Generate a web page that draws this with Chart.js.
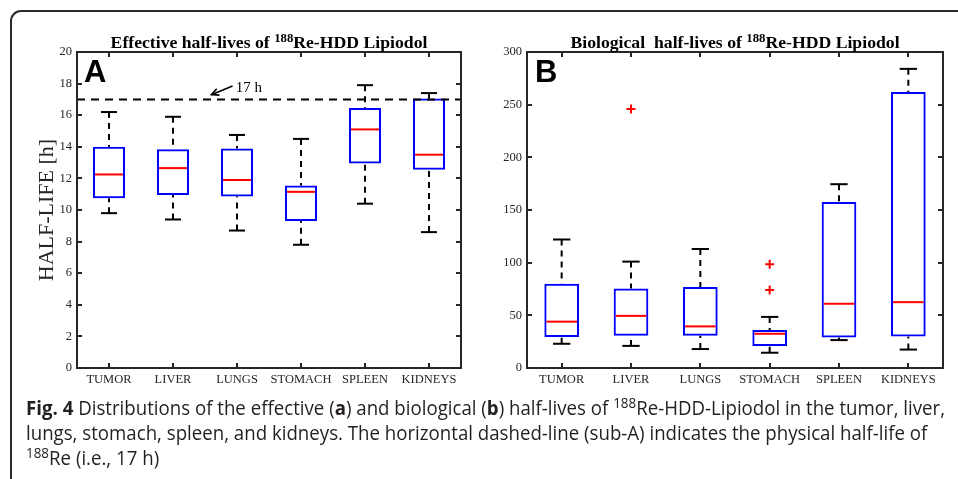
<!DOCTYPE html>
<html>
<head>
<meta charset="utf-8">
<script src="https://cdn.jsdelivr.net/npm/chart.js@4.4.1/dist/chart.umd.min.js"></script>
<style>
    html, body { margin: 0; padding: 0; background: #fff; }
    body { width: 958px; height: 479px; overflow: hidden; position: relative; }
    .frame {
        position: absolute; left: 10px; top: 10px; width: 990px; height: 520px;
        border: 2px solid #2b2b2b; border-top-left-radius: 11px; box-sizing: border-box;
    }
    canvas { position: absolute; top: 0; }
    .ptitle {
        position: absolute; top: 32px; height: 16px; line-height: 16px; text-align: center;
        font: bold 17.7px "Liberation Serif", "Times New Roman", serif; color: #000; white-space: nowrap;
    }
    .ptitle sup, .caption sup { font-size: 0.72em; position: relative; top: -0.5em; vertical-align: baseline; line-height: 0; }
    .letter {
        position: absolute; top: 54px; height: 31px; line-height: 31px;
        font: bold 31px "Liberation Sans", Arial, sans-serif; color: #000;
    }
    .ylabel {
        position: absolute; left: -55px; top: 198px; width: 200px; height: 24px; line-height: 24px;
        text-align: center; transform: rotate(-90deg); transform-origin: 50% 50%;
        font: 22px "Liberation Serif", "Times New Roman", serif; color: #262626; white-space: nowrap;
    }
    .caption {
        position: absolute; left: 26px; top: 395px; transform-origin: 0 0;
        font: 20px "Open Sans", "Noto Sans", sans-serif; line-height: 25px; color: #231f20; white-space: nowrap;
    }
</style>
</head>
<body>
<div class="frame"></div>
<canvas id="chartA" width="475" height="395" style="left:0"></canvas>
<canvas id="chartB" width="478" height="395" style="left:480px"></canvas>

<div class="ptitle" style="left:77px; width:384px">Effective half-lives of <sup>188</sup>Re-HDD Lipiodol</div>
<div class="ptitle" style="left:527px; width:416px">Biological &nbsp;half-lives of <sup>188</sup>Re-HDD Lipiodol</div>
<div class="letter" style="left:84px">A</div>
<div class="letter" style="left:535px">B</div>
<div class="ylabel">HALF-LIFE [h]</div>

<div class="caption" id="caption">
    <div id="capLine1"><b>Fig. 4</b> Distributions of the effective (<b>a</b>) and biological (<b>b</b>) half-lives of <sup>188</sup>Re-HDD-Lipiodol in the tumor, liver,</div>
    <div>lungs, stomach, spleen, and kidneys. The horizontal dashed-line (sub-A) indicates the physical half-life of</div>
    <div><sup>188</sup>Re (i.e., 17 h)</div>
</div>

<script>
// Categories
const categories = ["TUMOR", "LIVER", "LUNGS", "STOMACH", "SPLEEN", "KIDNEYS"];

// A: effective half-lives [h]
const effMin    = [9.8, 9.4, 8.7, 7.8, 10.4, 8.6];
const effQ1     = [10.75, 10.95, 10.85, 9.3, 12.95, 12.55];
const effMedian = [12.25, 12.65, 11.9, 11.15, 15.1, 13.5];
const effQ3     = [14.0, 13.85, 13.9, 11.55, 16.45, 17.05];
const effMax    = [16.2, 15.9, 14.75, 14.5, 17.9, 17.4];
const physicalHalfLife = 17;

// B: biological half-lives [h]
const bioMin    = [23, 21, 18, 14.5, 26.5, 17.5];
const bioQ1     = [29.5, 30.5, 30.5, 21, 29, 30];
const bioMedian = [44, 49.5, 39.5, 32.5, 61, 62.5];
const bioQ3     = [80, 75.5, 77, 36, 157.5, 262];
const bioMax    = [122, 101, 113, 48.5, 174.5, 284];
const bioOutlierCat = ["LIVER", "STOMACH", "STOMACH"];
const bioOutlierVal = [246, 98.5, 74];

// Axis ticks
const effTicks = { min: 0, max: 20, step: 2 };
const bioTicks = { min: 0, max: 300, step: 50 };

// Annotation for the 17 h line (x in category index units, y in data units)
const refNote = { text: "17 h", textAt: [1.98, 17.45], arrowFrom: [1.93, 17.85], arrowTo: [1.6, 17.3] };

const AXIS_COLOR = "#262626";
const TICK_FONT = { family: "'Liberation Serif', 'Times New Roman', serif", size: 12.5 };

function line(ctx, x1, y1, x2, y2) {
    ctx.beginPath();
    ctx.moveTo(x1, y1);
    ctx.lineTo(x2, y2);
    ctx.stroke();
}

// Whiskers, caps, medians, frame and inward tick marks (MATLAB style)
function boxExtras(stats, withRef) {
    return {
        id: "boxExtras",
        beforeDatasetsDraw(chart) {
            const { ctx, scales: { x, y } } = chart;
            const step = x.getPixelForValue(1) - x.getPixelForValue(0);
            const capHalf = step * 0.125;
            ctx.save();
            ctx.strokeStyle = "#000";
            ctx.lineWidth = 2;
            stats.min.forEach((v, i) => {
                const cx = x.getPixelForValue(i);
                ctx.setLineDash([6, 5]);
                line(ctx, cx, y.getPixelForValue(stats.max[i]), cx, y.getPixelForValue(stats.q3[i]));
                line(ctx, cx, y.getPixelForValue(stats.min[i]), cx, y.getPixelForValue(stats.q1[i]));
                ctx.setLineDash([]);
                line(ctx, cx - capHalf, y.getPixelForValue(stats.max[i]), cx + capHalf, y.getPixelForValue(stats.max[i]));
                line(ctx, cx - capHalf, y.getPixelForValue(stats.min[i]), cx + capHalf, y.getPixelForValue(stats.min[i]));
            });
            ctx.restore();
        },
        afterDatasetsDraw(chart) {
            const { ctx, chartArea: a, scales: { x, y } } = chart;
            const step = x.getPixelForValue(1) - x.getPixelForValue(0);
            const boxHalf = step * 0.25;
            ctx.save();

            // medians
            ctx.strokeStyle = "#ff0000";
            ctx.lineWidth = 2;
            stats.med.forEach((v, i) => {
                const cx = x.getPixelForValue(i);
                const py = y.getPixelForValue(v);
                line(ctx, cx - boxHalf + 2, py, cx + boxHalf - 2, py);
            });

            // reference line + note
            if (withRef) {
                const ry = y.getPixelForValue(physicalHalfLife);
                ctx.strokeStyle = "#000";
                ctx.setLineDash([8, 6]);
                line(ctx, a.left, ry, a.right, ry);
                ctx.setLineDash([]);

                const fx = x.getPixelForValue(refNote.arrowFrom[0]), fy = y.getPixelForValue(refNote.arrowFrom[1]);
                const tx = x.getPixelForValue(refNote.arrowTo[0]), ty = y.getPixelForValue(refNote.arrowTo[1]);
                ctx.lineWidth = 1.6;
                line(ctx, fx, fy, tx, ty);
                const ang = Math.atan2(ty - fy, tx - fx);
                ctx.beginPath();
                ctx.moveTo(tx - 8 * Math.cos(ang - 0.45), ty - 8 * Math.sin(ang - 0.45));
                ctx.lineTo(tx, ty);
                ctx.lineTo(tx - 8 * Math.cos(ang + 0.45), ty - 8 * Math.sin(ang + 0.45));
                ctx.stroke();

                ctx.fillStyle = "#000";
                ctx.font = "15px 'Liberation Serif', 'Times New Roman', serif";
                ctx.textBaseline = "alphabetic";
                ctx.fillText(refNote.text, x.getPixelForValue(refNote.textAt[0]), y.getPixelForValue(refNote.textAt[1]));
            }

            // frame
            ctx.strokeStyle = AXIS_COLOR;
            ctx.lineWidth = 2;
            ctx.strokeRect(a.left, a.top, a.right - a.left, a.bottom - a.top);

            // inward ticks
            const tl = 5;
            y.ticks.forEach(t => {
                const py = Math.round(y.getPixelForValue(t.value));
                line(ctx, a.left, py, a.left + tl, py);
                line(ctx, a.right, py, a.right - tl, py);
            });
            x.ticks.forEach((t, i) => {
                const px = Math.round(x.getPixelForValue(i));
                line(ctx, px, a.bottom, px, a.bottom - tl);
                line(ctx, px, a.top, px, a.top + tl);
            });
            ctx.restore();
        }
    };
}

function makeChart(canvasId, opts) {
    const datasets = [{
        type: "bar",
        data: categories.map((c, i) => [opts.stats.q1[i], opts.stats.q3[i]]),
        backgroundColor: "rgba(255,255,255,0)",
        borderColor: "#0000ff",
        borderWidth: 2,
        borderSkipped: false,
        barPercentage: 0.5,
        categoryPercentage: 1
    }];
    if (opts.outliers) {
        datasets.push({
            type: "scatter",
            data: opts.outliers.cat.map((c, i) => ({ x: c, y: opts.outliers.val[i] })),
            pointStyle: "cross",
            radius: 4.5,
            borderColor: "#ff0000",
            borderWidth: 2
        });
    }

    return new Chart(document.getElementById(canvasId), {
        type: "bar",
        data: { labels: categories, datasets },
        options: {
            responsive: false,
            animation: false,
            layout: { padding: { top: 52, right: opts.padRight, left: 0, bottom: 0 } },
            plugins: { legend: { display: false }, tooltip: { enabled: false }, title: { display: false } },
            scales: {
                x: {
                    type: "category",
                    offset: true,
                    grid: { display: false, drawTicks: false },
                    border: { display: false },
                    ticks: { color: AXIS_COLOR, font: TICK_FONT, padding: 4, maxRotation: 0, autoSkip: false },
                    afterFit: s => { s.height = 27; }
                },
                y: {
                    min: opts.ticks.min,
                    max: opts.ticks.max,
                    grid: { display: false, drawTicks: false },
                    border: { display: false },
                    ticks: { stepSize: opts.ticks.step, color: AXIS_COLOR, font: TICK_FONT, padding: 5 },
                    afterFit: s => { s.width = opts.yWidth; }
                }
            }
        },
        plugins: [boxExtras(opts.stats, opts.withRef)]
    });
}

makeChart("chartA", {
    stats: { min: effMin, q1: effQ1, med: effMedian, q3: effQ3, max: effMax },
    ticks: effTicks, yWidth: 77, padRight: 14, withRef: true
});

makeChart("chartB", {
    stats: { min: bioMin, q1: bioQ1, med: bioMedian, q3: bioQ3, max: bioMax },
    outliers: { cat: bioOutlierCat, val: bioOutlierVal },
    ticks: bioTicks, yWidth: 47, padRight: 15, withRef: false
});

// Squeeze the caption to the condensed width of the original
const cap = document.getElementById("caption");
const w1 = document.getElementById("capLine1").scrollWidth;
cap.style.transform = `scaleX(${919 / w1})`;
</script>
</body>
</html>
